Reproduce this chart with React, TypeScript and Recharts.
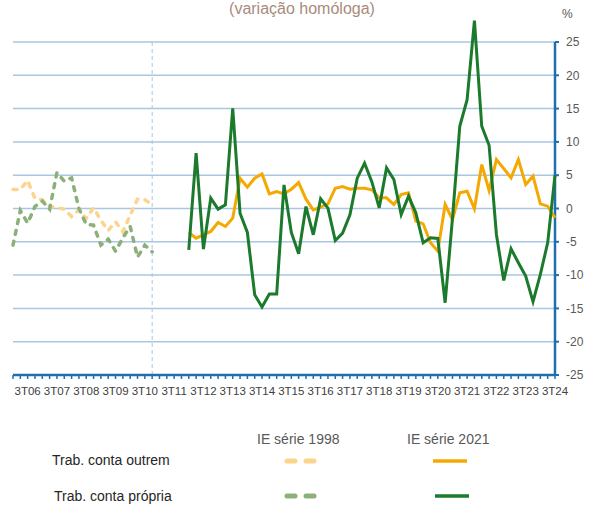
import React from "react";
import {
  LineChart,
  Line,
  XAxis,
  YAxis,
  ReferenceLine,
} from "recharts";

// quarters 1T06 .. 3T24
const years = ["06", "07", "08", "09", "10", "11", "12", "13", "14", "15", "16", "17", "18", "19", "20", "21", "22", "23", "24"];
const quarters: string[] = [];
years.forEach((y) => {
  for (let q = 1; q <= 4; q++) {
    if (y === "24" && q > 3) break;
    quarters.push(`${q}T${y}`);
  }
});

const yTicks = [-25, -20, -15, -10, -5, 0, 5, 10, 15, 20, 25];

// IE série 1998, 1T06 .. 4T10
const start1998 = "1T06";
const outrem1998 = [2.85, 2.85, 4.2, 1.5, 1.3, 0.3, 0.1, -0.1, -1.2, -0.2, -1.5, 0.1, -1.8, -3.3, -2.0, -3.5, -1.0, 1.4, 1.3, 0.6];
const propria1998 = [-5.5, -0.3, -2.2, 0.3, 1.1, -0.1, 5.4, 4.1, 4.6, 0.0, -2.4, -2.5, -5.5, -4.6, -6.4, -4.4, -2.7, -7.3, -5.5, -6.5];

// IE série 2021, 1T12 .. 3T24
const start2021 = "1T12";
const outrem2021 = [
  -3.6, -4.45, -3.95, -3.45, -2.1, -2.7, -1.45, 4.55, 3.2, 4.55, 5.2, 2.2, 2.55, 2.2, 2.9, 3.9,
  1.4, -0.2, 0.2, 0.7, 3.05, 3.3, 2.9, 3.05, 3.05, 2.8, 1.6, 1.6, 0.6, 2.1, 2.35, -1.9, -2.3,
  -5.15, -6.4, 0.6, -1.65, 2.35, 2.6, -0.05, 6.6, 2.7, 7.35, 6.0, 4.6, 7.35, 3.6, 4.85, 0.7, 0.35, -1.4,
];
const propria2021 = [
  -6.2, 8.3, -6.1, 1.55, -0.1, 0.55, 15.05, -0.7, -3.6, -12.95, -14.8, -12.85, -12.85, 3.55, -3.6, -6.8,
  0.3, -3.95, 1.45, 0.05, -4.8, -3.7, -0.95, 4.55, 6.8, 4.0, 0.1, 6.1, 4.35, -0.9, 1.85, -0.65, -5.15,
  -4.4, -4.5, -14.15, -1.5, 12.35, 16.35, 28.2, 12.35, 9.5, -3.9, -10.8, -6.05, -8.15, -10.15, -14.0, -9.9, -5.15, 5.0,
];

const pick = (arr: number[], start: string, i: number) => {
  const k = i - quarters.indexOf(start);
  return k >= 0 && k < arr.length ? arr[k] : null;
};

const data = quarters.map((q, i) => ({
  q,
  outrem1998: pick(outrem1998, start1998, i),
  propria1998: pick(propria1998, start1998, i),
  outrem2021: pick(outrem2021, start2021, i),
  propria2021: pick(propria2021, start2021, i),
}));

const FONT = '"Liberation Sans", Arial, sans-serif';
const AXIS = "#1f6fae";
const GRID = "#a9c6e2";
const ORANGE = "#F5A800";
const ORANGE_LIGHT = "#FDD48C";
const GREEN = "#1B7A2B";
const GREEN_LIGHT = "#8CB07A";

const QuarterTick = (props: any) => {
  const { x, y, payload } = props;
  const label: string = payload.value;
  return (
    <g>
      <line x1={x} x2={x} y1={y} y2={y + 4} stroke={AXIS} strokeWidth={1.5} />
      {label.startsWith("3T") && (
        <text x={x} y={y + 20} textAnchor="middle" fontSize={11.5} fill="#404040" fontFamily={FONT}>
          {label}
        </text>
      )}
    </g>
  );
};

export default function App() {
  return (
    <div style={{ position: "absolute", left: 0, top: 0, width: 597, height: 507, background: "#fff", fontFamily: FONT }}>
      <LineChart width={597} height={400} data={data} margin={{ top: 8.7, right: 0, left: 13, bottom: 0 }}>
        {yTicks.map((t) => (
          <ReferenceLine key={t} y={t} stroke={GRID} strokeWidth={1.5} />
        ))}
        <XAxis
          dataKey="q"
          scale="point"
          padding={{ left: 0, right: 0 }}
          interval={0}
          height={25}
          tickSize={0}
          tickMargin={0}
          tickLine={false}
          axisLine={{ stroke: AXIS, strokeWidth: 2.5 }}
          tick={<QuarterTick />}
        />
        <YAxis
          orientation="right"
          width={42}
          domain={[-25, 30]}
          ticks={yTicks}
          interval={0}
          axisLine={false}
          tickSize={4}
          tickMargin={7}
          tickLine={{ stroke: AXIS, strokeWidth: 2 }}
          tick={{ fontSize: 12, fill: "#595959", fontFamily: FONT, textAnchor: "start" }}
        />
        <ReferenceLine
          segment={[{ x: "4T10", y: 25 }, { x: "4T10", y: -25 }]}
          stroke={GRID}
          strokeDasharray="4 3"
          strokeWidth={1}
        />
        <ReferenceLine
          segment={[{ x: "3T24", y: 25 }, { x: "3T24", y: -25 }]}
          stroke={AXIS}
          strokeWidth={2.5}
        />
        <Line dataKey="outrem1998" stroke={ORANGE_LIGHT} strokeWidth={3.5} strokeDasharray="4 7" strokeLinecap="round" dot={false} isAnimationActive={false} />
        <Line dataKey="propria1998" stroke={GREEN_LIGHT} strokeWidth={3.5} strokeDasharray="4 7" strokeLinecap="round" dot={false} isAnimationActive={false} />
        <Line dataKey="outrem2021" stroke={ORANGE} strokeWidth={3} dot={false} isAnimationActive={false} />
        <Line dataKey="propria2021" stroke={GREEN} strokeWidth={3} dot={false} isAnimationActive={false} />
      </LineChart>
      <svg width={597} height={507} style={{ position: "absolute", left: 0, top: 0, pointerEvents: "none" }}>
        <text x={302} y={14} textAnchor="middle" fontSize={16} fill="#a88b7c" fontFamily={FONT}>
          (variação homóloga)
        </text>
        <text x={562} y={18} fontSize={12} fill="#595959" fontFamily={FONT}>%</text>
        <text x={257} y={444} fontSize={14} fill="#595959" fontFamily={FONT}>IE série 1998</text>
        <text x={407} y={444} fontSize={14} fill="#595959" fontFamily={FONT}>IE série 2021</text>
        <text x={52} y={465} fontSize={14} fill="#262626" fontFamily={FONT}>Trab. conta outrem</text>
        <text x={54} y={501} fontSize={14} fill="#262626" fontFamily={FONT}>Trab. conta própria</text>
        <line x1={287} x2={295} y1={461} y2={461} stroke={ORANGE_LIGHT} strokeWidth={5} strokeLinecap="round" />
        <line x1={306} x2={314} y1={461} y2={461} stroke={ORANGE_LIGHT} strokeWidth={5} strokeLinecap="round" />
        <line x1={433} x2={467} y1={461} y2={461} stroke={ORANGE} strokeWidth={3.5} />
        <line x1={287} x2={295} y1={496} y2={496} stroke={GREEN_LIGHT} strokeWidth={5} strokeLinecap="round" />
        <line x1={306} x2={314} y1={496} y2={496} stroke={GREEN_LIGHT} strokeWidth={5} strokeLinecap="round" />
        <line x1={435} x2={469} y1={496} y2={496} stroke={GREEN} strokeWidth={3.5} />
      </svg>
    </div>
  );
}
